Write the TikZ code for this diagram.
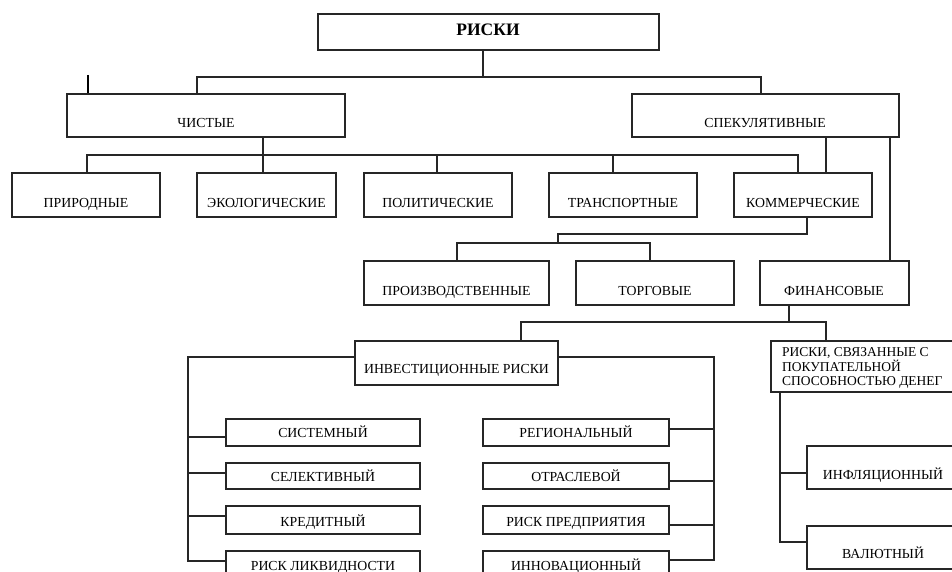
\documentclass[tikz,border=0pt]{standalone}
\usepackage{fontspec}
\setmainfont{Liberation Serif}
\definecolor{linec}{HTML}{262626}
\tikzset{
  box/.style={draw=linec, line width=1.25pt, inner sep=0pt},
  lbl/.style={font=\fontsize{13.8}{14}\selectfont, inner sep=0pt, anchor=base},
  conn/.style={draw=linec, line width=1.1pt}
}
\newcommand\BX[5]{\node[box, minimum width={(#4)-(#2)}, minimum height={(#5)-(#3)}] (#1) at ({((#2)+(#4))/2},{((#3)+(#5))/2}) {};}
\begin{document}
\begin{tikzpicture}[x=1pt,y=-1pt]
\useasboundingbox (0,0) rectangle (952,572);
\clip (0,0) rectangle (952,572);
% boxes
\BX{riski}{318}{14}{659}{50}
\BX{chist}{67}{94}{345}{137}
\BX{spek}{632}{94}{899}{137}
\BX{prir}{12}{173}{160}{217}
\BX{eko}{197}{173}{336}{217}
\BX{pol}{364}{173}{512}{217}
\BX{trans}{549}{173}{697}{217}
\BX{komm}{734}{173}{872}{217}
\BX{proizv}{364}{261}{549}{305}
\BX{torg}{576}{261}{734}{305}
\BX{fin}{760}{261}{909}{305}
\BX{invest}{355}{341}{558}{385}
\BX{pokup}{771}{341}{970}{392}
\BX{sist}{226}{419}{420}{446}
\BX{sel}{226}{463}{420}{489}
\BX{kred}{226}{506}{420}{534}
\BX{likv}{226}{551}{420}{590}
\BX{reg}{483}{419}{669}{446}
\BX{otr}{483}{463}{669}{489}
\BX{pred}{483}{506}{669}{534}
\BX{innov}{483}{551}{669}{590}
\BX{infl}{807}{446}{960}{489}
\BX{val}{807}{526}{960}{569}
% labels
\node[lbl, font=\fontsize{17.5}{20}\selectfont\bfseries] (riskiT) at (488,36) {РИСКИ};
\node[lbl] (chistT) at (206,128) {ЧИСТЫЕ};
\node[lbl] (spekT) at (765,128) {СПЕКУЛЯТИВНЫЕ};
\node[lbl] (prirT) at (86,207) {ПРИРОДНЫЕ};
\node[lbl] (ekoT) at (266.5,207) {ЭКОЛОГИЧЕСКИЕ};
\node[lbl] (polT) at (438,207) {ПОЛИТИЧЕСКИЕ};
\node[lbl] (transT) at (623,207) {ТРАНСПОРТНЫЕ};
\node[lbl] (kommT) at (803,207) {КОММЕРЧЕСКИЕ};
\node[lbl] (proizvT) at (456.5,295) {ПРОИЗВОДСТВЕННЫЕ};
\node[lbl] (torgT) at (655,295) {ТОРГОВЫЕ};
\node[lbl] (finT) at (834,295) {ФИНАНСОВЫЕ};
\node[lbl] (investT) at (456.5,373) {ИНВЕСТИЦИОННЫЕ РИСКИ};
\node[lbl, anchor=base west] (pokupT) at (782,356) {\fontsize{13.5}{14}\selectfont\begin{tabular}[t]{@{}l@{}}РИСКИ, СВЯЗАННЫЕ С\\ПОКУПАТЕЛЬНОЙ\\СПОСОБНОСТЬЮ ДЕНЕГ\end{tabular}};
\node[lbl] (sistT) at (323,437) {СИСТЕМНЫЙ};
\node[lbl] (selT) at (323,481) {СЕЛЕКТИВНЫЙ};
\node[lbl] (kredT) at (323,526) {КРЕДИТНЫЙ};
\node[lbl] (likvT) at (323,570) {РИСК ЛИКВИДНОСТИ};
\node[lbl] (regT) at (576,437) {РЕГИОНАЛЬНЫЙ};
\node[lbl] (otrT) at (576,481) {ОТРАСЛЕВОЙ};
\node[lbl] (predT) at (576,526) {РИСК ПРЕДПРИЯТИЯ};
\node[lbl] (innovT) at (576,570) {ИННОВАЦИОННЫЙ};
\node[lbl] (inflT) at (883,479) {ИНФЛЯЦИОННЫЙ};
\node[lbl] (valT) at (883,558) {ВАЛЮТНЫЙ};
% connectors
\draw[conn] (riski.south -| 483,0) -- (483,77);
\draw[conn] (chist.north -| 197,0) -- (197,77) -- (761,77) -- (spek.north -| 761,0);
\draw[line width=2.2pt] (88,75) -- (chist.north -| 88,0);
\draw[conn] (chist.south -| 263,0) -- (eko.north -| 263,0);
\draw[conn] (prir.north -| 87,0) -- (87,155) -- (798,155) -- (komm.north -| 798,0);
\draw[conn] (pol.north -| 437,0) -- (437,155);
\draw[conn] (trans.north -| 613,0) -- (613,155);
\draw[conn] (spek.south -| 826,0) -- (komm.north -| 826,0);
\draw[conn] (spek.south -| 890,0) -- (fin.north -| 890,0);
\draw[conn] (komm.south -| 807,0) -- (807,234) -- (558,234) -- (558,243);
\draw[conn] (proizv.north -| 457,0) -- (457,243) -- (650,243) -- (torg.north -| 650,0);
\draw[conn] (fin.south -| 789,0) -- (789,322);
\draw[conn] (invest.north -| 521,0) -- (521,322) -- (826,322) -- (pokup.north -| 826,0);
\draw[conn] (invest.west |- 0,357) -- (188,357) -- (188,561) -- (likv.west |- 0,561);
\draw[conn] (188,437) -- (sist.west |- 0,437);
\draw[conn] (188,473) -- (sel.west |- 0,473);
\draw[conn] (188,516) -- (kred.west |- 0,516);
\draw[conn] (invest.east |- 0,357) -- (714,357) -- (714,560) -- (innov.east |- 0,560);
\draw[conn] (714,429) -- (reg.east |- 0,429);
\draw[conn] (714,481) -- (otr.east |- 0,481);
\draw[conn] (714,525) -- (pred.east |- 0,525);
\draw[conn] (pokup.south -| 780,0) -- (780,542) -- (val.west |- 0,542);
\draw[conn] (780,473) -- (infl.west |- 0,473);
\end{tikzpicture}
\end{document}
